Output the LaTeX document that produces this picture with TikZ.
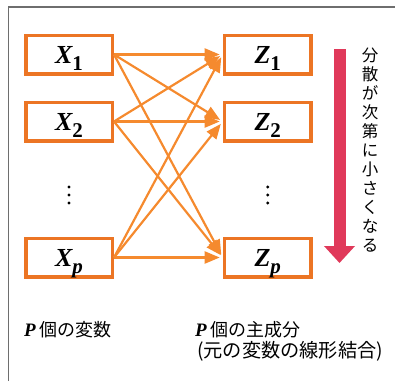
\documentclass[tikz,border=0pt]{standalone}
\usepackage{fontspec}
\setmainfont{Liberation Serif}
\newfontfamily\cjk{Noto Sans CJK JP}
\usetikzlibrary{arrows.meta}
\definecolor{boxorange}{HTML}{EC7524}
\definecolor{arroworange}{HTML}{F58A2E}
\definecolor{barred}{HTML}{E0395A}
\definecolor{framegray}{HTML}{6E6E6E}
\newcommand{\vsub}[1]{\raisebox{-7pt}[0pt][0pt]{\fontsize{21}{21}\selectfont #1}}
\begin{document}
\begin{tikzpicture}[x=1pt,y=-1pt,
  varbox/.style={draw=boxorange, line width=3.5pt, minimum width=86.5pt,
    minimum height=38.5pt, inner sep=0pt,
    font=\fontsize{26}{26}\selectfont\bfseries\itshape},
  link/.style={draw=arroworange, line width=2.2pt,
    -{Triangle[length=15pt,width=12pt]}, shorten >=3pt},
  cjklabel/.style={inner sep=0pt, anchor=base west},
  dot/.style={fill=black},
]
\useasboundingbox (0,0) rectangle (395,381);
% frame
\draw[framegray, line width=1.5pt] (8.5,381) -- (8.5,7) -- (395,7);
% boxes
\node[varbox] (x1) at (69,54.5) {X\vsub{\upshape 1}};
\node[varbox] (x2) at (69,121.5) {X\vsub{\upshape 2}};
\node[varbox] (xp) at (69,257.5) {X\vsub{p}};
\node[varbox] (z1) at (267.7,54.5) {Z\vsub{\upshape 1}};
\node[varbox] (z2) at (267.7,121.5) {Z\vsub{\upshape 2}};
\node[varbox] (zp) at (267.7,257.5) {Z\vsub{p}};
% dots
\foreach \yy in {187,195,203} {
  \fill[dot] (69,\yy) circle (1.6pt);
  \fill[dot] (267.7,\yy) circle (1.6pt);
}
% links
\foreach \s in {x1,x2,xp} {
  \foreach \t in {z1,z2,zp} {
    \draw[link] (\s.east) -- (\t.west);
  }
}
% red arrow
\draw[barred, line width=12pt, -{Triangle[length=17pt,width=30pt]}] (339.5,49) -- (339.5,263);
% vertical text
\node[align=center, inner sep=0pt, font=\cjk\fontsize{16.5}{19}\selectfont] (vt) at (370,150)
  {分\\散\\が\\次\\第\\に\\小\\さ\\く\\な\\る};
% bottom labels
\node[cjklabel] (lx) at (24,336) {{\fontsize{19}{19}\selectfont\bfseries\itshape P}\hspace{4pt}{\cjk\fontsize{18}{18}\selectfont 個の変数}};
\node[cjklabel] (lz) at (195,336) {{\fontsize{19}{19}\selectfont\bfseries\itshape P}\hspace{4pt}{\cjk\fontsize{18}{18}\selectfont 個の主成分}};
\node[cjklabel] (lz2) at (197,357) {{\cjk\fontsize{19.2}{19.2}\selectfont (元の変数の線形結合)}};
\end{tikzpicture}
\end{document}
